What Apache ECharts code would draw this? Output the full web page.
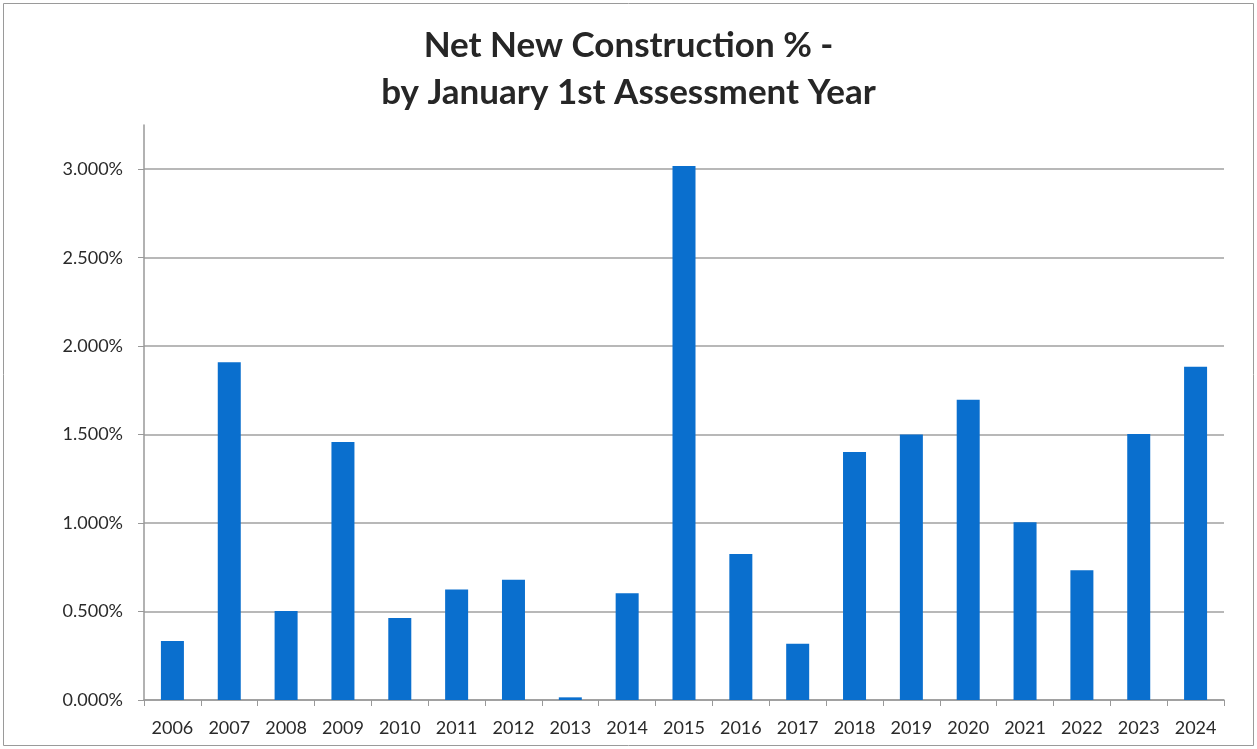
<!DOCTYPE html>
<html>
<head>
<meta charset="utf-8">
<script src="https://cdn.jsdelivr.net/npm/echarts@6/dist/echarts.min.js"></script>
<style>
html,body{margin:0;padding:0;background:#fff;}
#chart{width:1257px;height:749px;}
</style>
</head>
<body>
<div id="chart"></div>
<script>
const titleLines = ['Net New Construction % -', 'by January 1st Assessment Year'];
const years = ['2006','2007','2008','2009','2010','2011','2012','2013','2014','2015','2016','2017','2018','2019','2020','2021','2022','2023','2024'];
const netNewPct = [0.334, 1.909, 0.503, 1.458, 0.464, 0.624, 0.680, 0.015, 0.604, 3.018, 0.825, 0.318, 1.402, 1.500, 1.697, 1.004, 0.733, 1.504, 1.883];

const chart = echarts.init(document.getElementById('chart'));
chart.setOption({
  animation: false,
  backgroundColor: '#fff',
  title: {
    text: titleLines.join('\n'),
    left: 'center',
    top: 17,
    textStyle: {
      fontFamily: 'Lato',
      fontWeight: 'bold',
      fontSize: 35,
      lineHeight: 47,
      color: '#262626'
    }
  },
  graphic: [{
    type: 'rect',
    shape: {x: 3.5, y: 3.5, width: 1250, height: 742},
    style: {fill: 'none', stroke: '#9a9a9a', lineWidth: 1},
    silent: true
  }],
  grid: {left: 144, right: 33, top: 125, bottom: 49},
  xAxis: {
    type: 'category',
    data: years,
    axisLine: {lineStyle: {color: '#999', width: 1.5}},
    axisTick: {show: true, length: 6, lineStyle: {color: '#999'}},
    axisLabel: {fontFamily: 'Lato', fontSize: 18, color: '#2a2a2a', margin: 19}
  },
  yAxis: {
    type: 'value',
    min: 0,
    max: 3.25,
    interval: 0.5,
    axisLine: {show: true, lineStyle: {color: '#999', width: 1.5}},
    axisTick: {show: true, length: 6, lineStyle: {color: '#999'}},
    axisLabel: {
      fontFamily: 'Lato', fontSize: 18, color: '#2a2a2a', margin: 21,
      showMaxLabel: false,
      formatter: v => v.toFixed(3) + '%'
    },
    splitLine: {show: true, showMaxLine: false, lineStyle: {color: '#a0a0a0', width: 1.5}}
  },
  series: [{
    type: 'bar',
    data: netNewPct,
    barWidth: 23,
    itemStyle: {color: '#0A6FCE'}
  }]
});
</script>
</body>
</html>
